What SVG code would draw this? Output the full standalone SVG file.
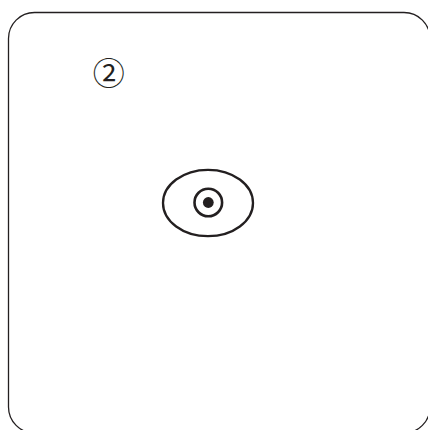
<svg xmlns="http://www.w3.org/2000/svg" width="428" height="430" viewBox="0 0 428 430">
<style>
.l{fill:none;stroke:#231f20}
text{fill:#231f20;font-family:"Noto Sans CJK JP","Liberation Sans",sans-serif}
</style>
<rect width="428" height="430" fill="#fff"/>
<rect class="l" x="8.5" y="12.5" width="421.5" height="420.5" rx="26" ry="26" stroke-width="1.3"/>
<text x="108.8" y="84.500" font-size="32" text-anchor="middle">②</text>
<g id="eye">
<ellipse class="l" cx="208" cy="203" rx="45" ry="33.2" stroke-width="2.3"/>
<circle class="l" cx="208.3" cy="202.5" r="13.8" stroke-width="2.6"/>
<circle cx="208.3" cy="202.5" r="5.4" fill="#231f20"/>
</g>
</svg>
